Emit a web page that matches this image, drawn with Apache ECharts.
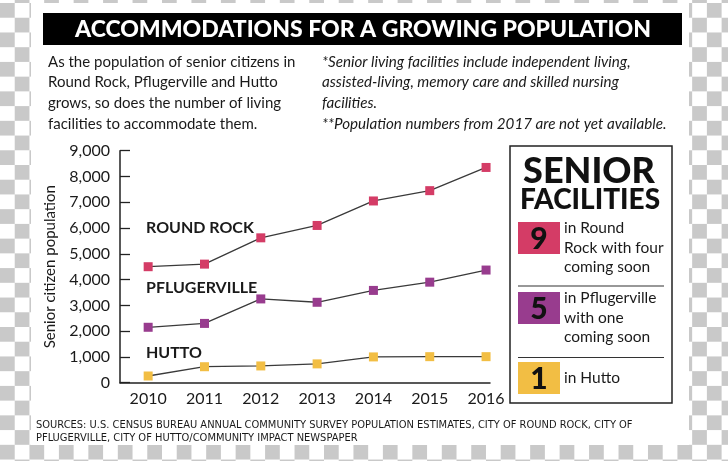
<!DOCTYPE html>
<html>
<head>
<meta charset="utf-8">
<script src="https://cdn.jsdelivr.net/npm/echarts@6/dist/echarts.min.js"></script>
<style>
html,body{margin:0;padding:0;}
body{width:728px;height:461px;overflow:hidden;
background:repeating-conic-gradient(#c9c9c9 0 25%, #ffffff 0 50%);
background-size:29.46px 29.46px;background-position:0px -11.73px;}
#c{width:728px;height:461px;}
</style>
</head>
<body>
<div id="c"></div>
<script>
const years = [2010, 2011, 2012, 2013, 2014, 2015, 2016];
const roundRock = [4500, 4600, 5620, 6100, 7050, 7450, 8350];
const pflugerville = [2150, 2300, 3250, 3120, 3580, 3900, 4370];
const hutto = [260, 620, 650, 730, 1000, 1010, 1010];
const seriesNames = ['ROUND ROCK', 'PFLUGERVILLE', 'HUTTO'];
const facilityCounts = ['9', '5', '1'];
const facilityNotes = [['in Round', 'Rock with four', 'coming soon'], ['in Pflugerville', 'with one', 'coming soon'], ['in Hutto']];
const titleText = 'ACCOMMODATIONS FOR A GROWING POPULATION';
const introLines = ['As the population of senior citizens in', 'Round Rock, Pflugerville and Hutto', 'grows, so does the number of living', 'facilities to accommodate them.'];
const noteLines = ['*Senior living facilities include independent living,', 'assisted-living, memory care and skilled nursing', 'facilities.', '**Population numbers from 2017 are not yet available.'];
const sourceLines = ['SOURCES: U.S. CENSUS BUREAU ANNUAL COMMUNITY SURVEY POPULATION ESTIMATES, CITY OF ROUND ROCK, CITY OF', 'PFLUGERVILLE, CITY OF HUTTO/COMMUNITY IMPACT NEWSPAPER'];

const colors = ['#d43c66', '#983c8e', '#f2be44'];
const FONT = 'Lato, "Open Sans", sans-serif';
const INK = '#1a1a1a';

const chart = echarts.init(document.getElementById('c'), null, {renderer: 'canvas'});

function pairs(arr){ return years.map((y,i)=>[y, arr[i]]); }

const graphics = [];
graphics.push({type:'rect', z:-10, shape:{x:31,y:3,width:658,height:442}, style:{fill:'#ffffff'}});
graphics.push({type:'rect', shape:{x:43,y:13,width:639,height:32}, style:{fill:'#000000'}});
graphics.push({type:'text', x:363, y:29.5, style:{text:titleText, fill:'#ffffff', font:'900 23px '+FONT, align:'center', verticalAlign:'middle'}});
introLines.forEach((t,i)=>graphics.push({type:'text', x:48, y:62+i*20.6, style:{text:t, fill:INK, font:'15px '+FONT, verticalAlign:'middle'}}));
noteLines.forEach((t,i)=>graphics.push({type:'text', x:322, y:62+i*20.6, style:{text:t, fill:INK, font:'italic 15.2px '+FONT, verticalAlign:'middle'}}));
sourceLines.forEach((t,i)=>graphics.push({type:'text', x:36, y:425+i*13, style:{text:t, fill:INK, font:'11px "Liberation Sans Narrow", "DejaVu Sans Condensed", sans-serif', verticalAlign:'middle'}}));
// series name labels
const labelY = [228, 288, 353];
seriesNames.forEach((n,i)=>graphics.push({type:'text', x:146, y:labelY[i], style:{text:n, fill:INK, font:'bold 16px '+FONT, verticalAlign:'middle'}}));
// sidebar
graphics.push({type:'rect', shape:{x:510,y:146,width:162,height:257}, style:{fill:'none', stroke:'#222', lineWidth:1.5}});
graphics.push({type:'text', x:589, y:171, style:{text:'SENIOR', fill:'#111', font:'900 36px '+FONT, align:'center', verticalAlign:'middle'}});
graphics.push({type:'text', x:590, y:200, style:{text:'FACILITIES', fill:'#111', font:'900 28px '+FONT, align:'center', verticalAlign:'middle'}});
const boxTop = [222, 292, 362];
boxTop.forEach((t,i)=>{
  graphics.push({type:'rect', shape:{x:518,y:t,width:42,height:32}, style:{fill:colors[i]}});
  graphics.push({type:'text', x:539, y:t+17, style:{text:facilityCounts[i], fill:'#111', font:'900 30px '+FONT, align:'center', verticalAlign:'middle'}});
  facilityNotes[i].forEach((line,j)=>graphics.push({type:'text', x:564, y:(i===2? t+16 : t+6+j*19.7), style:{text:line, fill:INK, font:'15.5px '+FONT, verticalAlign:'middle'}}));
});
graphics.push({type:'line', shape:{x1:518,y1:286,x2:664,y2:286}, style:{stroke:'#333', lineWidth:1.2}});
graphics.push({type:'line', shape:{x1:518,y1:357.5,x2:664,y2:357.5}, style:{stroke:'#333', lineWidth:1.2}});

function mkSeries(name, arr, color){
  return {type:'line', name, data:pairs(arr), symbol:'rect', symbolSize:9,
    itemStyle:{color:color, borderColor:color, borderWidth:0},
    lineStyle:{color:'#3a3a3a', width:1.3}, z:3, animation:false};
}

chart.setOption({
  backgroundColor:'transparent',
  animation:false,
  grid:{left:120, right:238, top:150.7, bottom:78.3, containLabel:false},
  xAxis:{type:'value', min:2009.5, max:2016.07, interval:0.5,
    axisLine:{show:true, lineStyle:{color:'#222', width:1.5}},
    axisTick:{show:false}, splitLine:{show:false},
    axisLabel:{color:INK, fontFamily:FONT, fontSize:16, margin:8,
      formatter:v=>Number.isInteger(v)?String(v):''}},
  yAxis:{type:'value', min:0, max:9000, interval:1000,
    name:'Senior citizen population', nameLocation:'middle', nameGap:62,
    nameTextStyle:{color:INK, fontFamily:FONT, fontSize:15},
    axisLine:{show:true, lineStyle:{color:'#222', width:1.5}},
    axisTick:{show:true, inside:true, length:10, lineStyle:{color:'#222', width:1.3}},
    splitLine:{show:false},
    axisLabel:{color:INK, fontFamily:FONT, fontSize:16, margin:10,
      formatter:v=>v.toLocaleString('en-US')}},
  series:[mkSeries(seriesNames[0], roundRock, colors[0]), mkSeries(seriesNames[1], pflugerville, colors[1]), mkSeries(seriesNames[2], hutto, colors[2])],
  graphic:graphics
});
</script>
</body>
</html>
